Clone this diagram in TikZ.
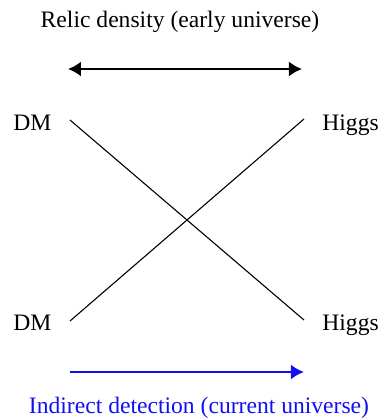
\documentclass[tikz,border=0pt]{standalone}
\usepackage{fontspec}
\setmainfont{Liberation Serif}
\usetikzlibrary{arrows.meta}
\definecolor{detblue}{HTML}{1010F0}

\begin{document}
\begin{tikzpicture}[x=0.5pt,y=-0.5pt,>={Latex[length=6.5pt,width=7.5pt]},
 lbl/.style={inner sep=0pt,anchor=base west,font=\fontsize{11.8}{14}\selectfont},
 caption/.style={inner sep=0pt,anchor=base,font=\fontsize{11.8}{14}\selectfont},
 leg/.style={line width=0.55pt},
 timearr/.style={line width=1.1pt}]
 \useasboundingbox (0,0) rectangle (381,420);
 % labels
 \node[caption] (relic) at (180,27) {Relic density (early universe)};
 \node[caption,text=detblue] (indirect) at (199,413) {Indirect detection (current universe)};
 \node[lbl] (dmtop) at (13,130) {DM};
 \node[lbl] (dmbot) at (13,330) {DM};
 \node[lbl] (htop) at (322,130) {Higgs};
 \node[lbl] (hbot) at (322,330) {Higgs};
 % line ends
 \coordinate (a1) at (70,120);
 \coordinate (a2) at (70,321);
 \coordinate (b1) at (304,119);
 \coordinate (b2) at (304,320);
 \foreach \p/\q in {a1/b2,a2/b1} \draw[leg] (\p)--(\q);
 % arrows
 \coordinate (r1) at (68,69);
 \coordinate (r2) at (302,69);
 \coordinate (d1) at (70,372);
 \coordinate (d2) at (304,372);
 \draw[timearr,<->] (r1)--(r2);
 \draw[timearr,->,color=detblue,line width=1.4pt] (d1)--(d2);
\end{tikzpicture}
\end{document}
